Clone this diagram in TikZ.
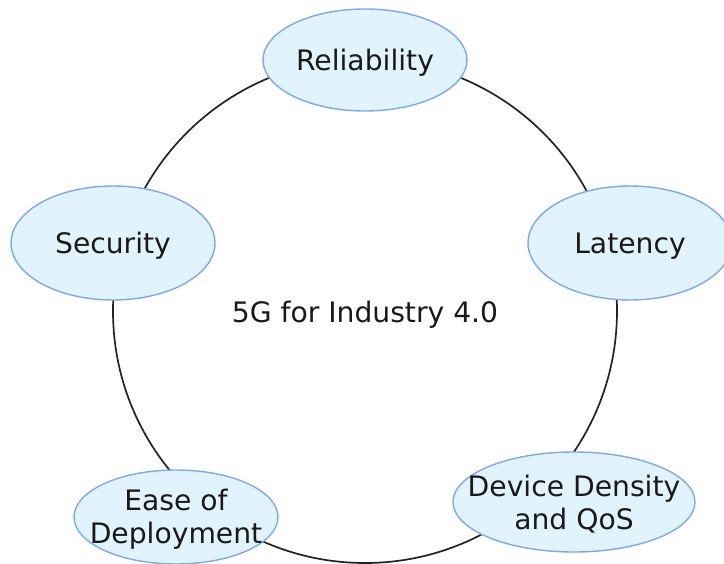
\documentclass[tikz,border=0pt]{standalone}
\usepackage{fontspec}
\setmainfont{DejaVu Sans}
\usetikzlibrary{shapes.geometric}
\definecolor{ellfill}{RGB}{225,244,253}
\definecolor{elldraw}{RGB}{125,168,238}
\definecolor{ringcol}{RGB}{35,35,35}
\definecolor{txtcol}{RGB}{25,25,25}
\tikzset{
  topic/.style={ellipse, draw=elldraw, fill=ellfill, line width=1.4pt, inner sep=0pt},
  topictext/.style={text=txtcol, align=center, inner sep=0pt, font=\fontsize{28.2}{33}\selectfont},
  ring/.style={circle, draw=ringcol, line width=1.7pt, inner sep=0pt, minimum size=504pt}
}
\begin{document}
\begin{tikzpicture}[x=1pt,y=-1pt]
\useasboundingbox (0,0) rectangle (724,564);
\node[ring] (core) at (365,311) {};
\node[topictext] (coret) at ([yshift=-4pt]core.center) {5G for Industry 4.0};
\node[topic, minimum width=204pt, minimum height=102pt] (rel) at (365,60) {};
\node[topictext] (relt) at ([yshift=-3pt]rel.center) {Reliability};
\node[topic, minimum width=204pt, minimum height=114pt] (lat) at (630,243) {};
\node[topictext] (latt) at ([yshift=-3pt]lat.center) {Latency};
\node[topic, minimum width=204pt, minimum height=114pt] (sec) at (113,243) {};
\node[topictext] (sect) at ([yshift=-3pt]sec.center) {Security};
\node[topic, minimum width=242pt, minimum height=100pt] (dev) at (574,502) {};
\node[topictext] (devt) at ([yshift=-2.5pt]dev.center) {Device Density\\and QoS};
\node[topic, minimum width=204pt, minimum height=94pt] (ease) at (176,517) {};
\node[topictext] (easet) at ([yshift=-2.5pt]ease.center) {Ease of\\Deployment};
\end{tikzpicture}
\end{document}
